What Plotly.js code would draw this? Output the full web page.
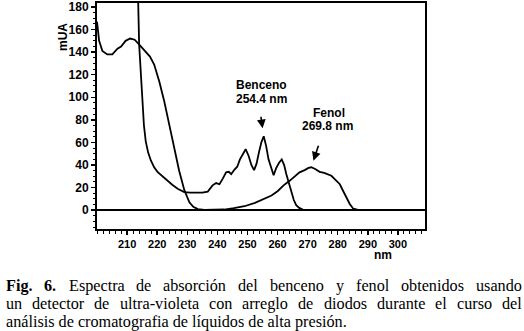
<!DOCTYPE html>
<html><head><meta charset="utf-8">
<script src="https://cdn.plot.ly/plotly-3.0.1.min.js"></script>
<style>html,body{margin:0;padding:0;background:#fff}#chart{width:524px;height:331px}</style>
</head><body><div id="chart"></div>
<script>
// ---- data ----
const fenolNm  = [200, 200.7, 201.8, 203.4, 205.1, 206.8, 208.0, 209.5, 211.0, 212.5, 213.6, 215.0, 216.2, 217.6, 219.0, 220.0, 220.7, 222.3, 224.0, 225.7, 227.3, 229.0, 230.7, 232.0, 233.5, 235.7, 239.0, 242.3, 245.5, 249.0, 252.5, 255.7, 258.0, 260.1, 262.0, 264.0, 265.8, 267.3, 269.0, 270.3, 271.2, 272.5, 274.0, 275.5, 277.9, 279.3, 280.7, 281.8, 282.9, 284.0, 285.1, 286.5, 288.4, 290.0];
const fenolAbs = [167, 150, 141, 138, 138, 143, 145, 150, 152, 151, 148, 144, 140, 136, 129, 121, 114, 97, 76, 56, 35, 18, 7, 3, 1, 0.3, 0.2, 0.6, 1.8, 3.5, 6.5, 10, 13, 17, 22, 26, 30, 33.5, 35.5, 37.5, 38, 36.5, 34, 33, 30.5, 27, 23, 17, 11.5, 5.5, 1.5, 0.5, 0, 0];

const bencenoNm  = [213.1, 213.3, 214.0, 214.6, 215.1, 215.6, 216.2, 217.0, 217.9, 219.0, 220.1, 221.8, 223.4, 225.0, 226.8, 228.0, 229.0, 231.0, 233.0, 235.0, 236.8, 237.6, 238.4, 239.6, 240.7, 241.8, 242.9, 243.8, 244.6, 245.7, 246.6, 247.5, 248.5, 249.4, 250.4, 251.3, 252.2, 253.0, 253.8, 254.6, 255.4, 256.2, 257.0, 258.0, 258.7, 259.5, 260.5, 261.4, 262.2, 262.9, 263.8, 264.6, 265.4, 266.2, 267.2, 268.4, 270.0, 290.0];
const bencenoAbs = [300, 230, 147, 120, 96, 75, 61, 51, 44, 38, 34, 30, 26, 22.5, 19, 17, 16, 15.5, 15.5, 15.5, 16.5, 19, 22, 24, 23, 28, 33.5, 34, 32, 36, 38.5, 45, 50, 54, 48, 40, 35.5, 41, 51, 60, 65.5, 57, 45, 36, 31, 37, 42, 45, 40, 32, 24, 16, 9, 4.5, 2, 0.6, 0, 0];

const xTickVals = [210, 220, 230, 240, 250, 260, 270, 280, 290, 300];
const xTickText = ['210', '220', '230', '240', '250', '260', '270', '280', '290', '300'];
const yTitle = 'mUA';
const xTitle = 'nm';
const bencenoLabel = ['Benceno', '254.4 nm'];
const fenolLabel = ['Fenol', '269.8 nm'];
const captionLines = [
  '<b>Fig.</b> <b>6.</b> Espectra de absorción del benceno y fenol obtenidos usando',
  'un detector de ultra-violeta con arreglo de diodos durante el curso del',
  'análisis de cromatografia de líquidos de alta presión.'
];

// ---- layout helpers ----
const L = 97, R = 425, T = 3, B = 229;
const px2x = p => (p - L) / (R - L);
const py2y = p => (B - p) / (B - T);
const sans = '"Liberation Sans", Arial, sans-serif';
const serif = '"Liberation Serif", "Times New Roman", serif';

const canvas = document.createElement('canvas');
const ctx = canvas.getContext('2d');
function measure(t, bold, size) {
  ctx.font = (bold ? 'bold ' : '') + size + 'px ' + serif;
  return ctx.measureText(t).width;
}
const base = measure(captionLines[2], false, 100);
let capSize = 100 * 341 / base;
capSize = Math.max(12, Math.min(18, capSize));

const annotations = [];
const lineMid = [286.0, 304.0, 322.0];
captionLines.forEach((line, i) => {
  const y = py2y(lineMid[i]);
  if (i === 2) {
    annotations.push({xref:'paper', yref:'paper', x: px2x(5), y, xanchor:'left', yanchor:'middle',
      text: line, showarrow:false, borderpad:0, font:{family: serif, size: capSize, color:'#000'}});
    return;
  }
  const words = line.split(' ');
  const widths = words.map(w => measure(w.replace(/<[^>]+>/g, ''), /<b>/.test(w), capSize));
  const total = widths.reduce((a, b) => a + b, 0);
  const gap = (516 - total) / (words.length - 1);
  let cx = 5;
  words.forEach((w, k) => {
    annotations.push({xref:'paper', yref:'paper', x: px2x(cx), y, xanchor:'left', yanchor:'middle',
      text: w, showarrow:false, borderpad:0, font:{family: serif, size: capSize, color:'#000'}});
    cx += widths[k] + gap;
  });
});

// axis titles
annotations.push({xref:'paper', yref:'paper', x: px2x(63), y: py2y(37), xanchor:'center', yanchor:'middle', textangle:-90,
  text: '<b>' + yTitle + '</b>', showarrow:false, borderpad:0, font:{family: sans, size: 12, color:'#000'}});
annotations.push({xref:'paper', yref:'paper', x: px2x(383), y: py2y(255), xanchor:'center', yanchor:'middle',
  text: '<b>' + xTitle + '</b>', showarrow:false, borderpad:0, font:{family: sans, size: 12, color:'#000'}});

// peak labels
const lblFont = {family: sans, size: 12, color:'#000'};
function lbl(px, py, t) {
  return {xref:'paper', yref:'paper', x: px2x(px), y: py2y(py), xanchor:'center', yanchor:'middle',
    text:'<b>'+t+'</b>', showarrow:false, borderpad:0, font: lblFont};
}
annotations.push(lbl(261, 84.8, bencenoLabel[0]));
annotations.push(lbl(261, 98.6, bencenoLabel[1]));
annotations.push(lbl(329, 112.6, fenolLabel[0]));
annotations.push(lbl(327.5, 126.4, fenolLabel[1]));

// arrows pointing to peaks
const bencenoPeak = bencenoAbs.indexOf(Math.max(...bencenoAbs.filter((v, i) => bencenoNm[i] > 240)));
const fenolPeak = fenolAbs.indexOf(Math.max(...fenolAbs.filter((v, i) => fenolNm[i] > 240)));
annotations.push({x: bencenoNm[bencenoPeak], y: bencenoAbs[bencenoPeak], text:' ', showarrow:true,
  ax: -4, ay: -28, arrowhead:2, arrowsize:1.1, arrowwidth:1.6, arrowcolor:'#000', standoff: 8});
annotations.push({x: fenolNm[fenolPeak], y: fenolAbs[fenolPeak], text:' ', showarrow:true,
  ax: 10, ay: -30, arrowhead:2, arrowsize:1.1, arrowwidth:1.6, arrowcolor:'#000', standoff: 7});

const lineStyle = {color:'#000', width:1.8};
const traces = [
  {x: fenolNm, y: fenolAbs, type:'scatter', mode:'lines', line: lineStyle, hoverinfo:'skip'},
  {x: bencenoNm, y: bencenoAbs, type:'scatter', mode:'lines', line: lineStyle, hoverinfo:'skip'}
];

const layout = {
  width: 524, height: 331,
  margin: {l: L, r: 524 - R, t: T, b: 331 - B, pad: 0},
  paper_bgcolor:'#fff', plot_bgcolor:'#fff',
  showlegend:false,
  font:{family: sans, color:'#000'},
  xaxis: {
    range:[200, 309], showgrid:false, zeroline:false,
    showline:true, linecolor:'#000', linewidth:2, mirror:true,
    ticks:'outside', ticklen:4, tickwidth:1.5, tickcolor:'#000',
    tickmode:'array', tickvals: xTickVals, ticktext: xTickText,
    ticklabeloverflow:'allow',
    tickfont:{family: sans, size:11, weight:'bold', color:'#000'},
    minor:{tickmode:'linear', tick0:200, dtick:2, ticks:'outside', ticklen:2.5, tickwidth:1, tickcolor:'#000', showgrid:false},
    fixedrange:true
  },
  yaxis: {
    range:[-16.65, 183.5], showgrid:false,
    zeroline:true, zerolinecolor:'#000', zerolinewidth:2,
    showline:true, linecolor:'#000', linewidth:2, mirror:true,
    ticks:'outside', ticklen:4, tickwidth:1.5, tickcolor:'#000',
    tickmode:'linear', tick0:0, dtick:20,
    ticklabeloverflow:'allow',
    tickfont:{family: sans, size:12, weight:'bold', color:'#000'},
    minor:{tickmode:'linear', tick0:0, dtick:5, ticks:'outside', ticklen:2, tickwidth:1, tickcolor:'#000', showgrid:false},
    fixedrange:true
  },
  annotations
};

Plotly.newPlot('chart', traces, layout, {displayModeBar:false, staticPlot:true});
</script>
</body></html>
